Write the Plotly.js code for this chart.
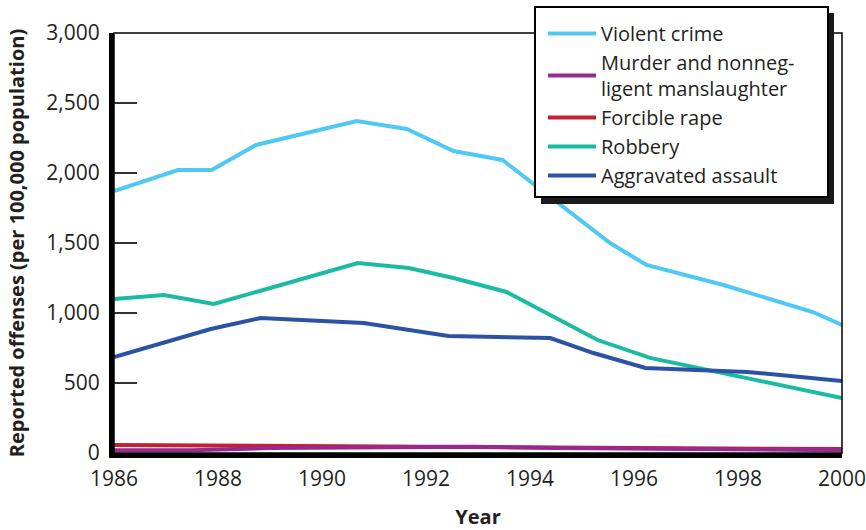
<!DOCTYPE html>
<html>
<head>
<meta charset="utf-8">
<script src="https://cdn.plot.ly/plotly-3.0.1.min.js"></script>
<style>
  html, body { margin: 0; padding: 0; background: #ffffff; }
  #chart { width: 866px; height: 530px; }
</style>
</head>
<body>
<div id="chart"></div>
<script>
// ---- Data ----
const seriesNames = [
  "Violent crime",
  "Murder and nonneg-<br>ligent manslaughter",
  "Forcible rape",
  "Robbery",
  "Aggravated assault"
];

const violentYears = [1986, 1987.23, 1987.88, 1988.73, 1990.67, 1991.63, 1992.53, 1993.47, 1995.54, 1996.24, 1997.72, 1999.44, 2000];
const violentRates = [1871, 2021, 2021, 2200, 2371, 2314, 2157, 2093, 1500, 1343, 1200, 1007, 914];

const murderYears = [1986, 1987.5, 1989, 1990.5, 1992.9, 1994.5, 1996, 1998, 2000];
const murderRates = [20, 20, 35, 38, 44, 36, 32, 30, 20];

const rapeYears = [1986, 1988, 1990, 1992, 1994, 1996, 1998, 2000];
const rapeRates = [57, 53, 48, 45, 40, 35, 32, 28];

const robberyYears = [1986, 1986.96, 1987.92, 1990.69, 1991.67, 1992.53, 1993.55, 1995.30, 1996.31, 1998.56, 2000];
const robberyRates = [1100, 1129, 1064, 1357, 1321, 1250, 1150, 807, 679, 507, 393];

const assaultYears = [1986, 1987.86, 1988.82, 1990.80, 1992.43, 1994.39, 1995.22, 1996.22, 1998.18, 2000];
const assaultRates = [686, 886, 964, 929, 836, 821, 714, 607, 579, 514];

const xTickVals = [1986, 1988, 1990, 1992, 1994, 1996, 1998, 2000];
const yTickVals = [0, 500, 1000, 1500, 2000, 2500, 3000];

const colors = {
  violent: "#4fc8f4",
  murder: "#962a8e",
  rape: "#c41f33",
  robbery: "#1bbba3",
  assault: "#2b52a3"
};

// ---- Layout geometry ----
const W = 866, H = 530;
const M = { l: 114, r: 24, t: 33, b: 77 };
const PW = W - M.l - M.r, PH = H - M.t - M.b;
const px = x => (x - M.l) / PW;          // pixel -> paper x
const py = y => (H - M.b - y) / PH;      // pixel -> paper y

const textColor = "#231f20";
const fontFam = "Open Sans, Noto Sans, DejaVu Sans, sans-serif";
const lw = 4;

function tr(x, y, name, color, rank) {
  return { x: x, y: y, name: name, type: "scatter", mode: "lines",
           line: { color: color, width: lw }, legendrank: rank, hoverinfo: "x+y+name" };
}

const data = [
  tr(violentYears, violentRates, seriesNames[0], colors.violent, 1),
  tr(robberyYears, robberyRates, seriesNames[3], colors.robbery, 4),
  tr(assaultYears, assaultRates, seriesNames[4], colors.assault, 5),
  tr(rapeYears, rapeRates, seriesNames[2], colors.rape, 3),
  tr(murderYears, murderRates, seriesNames[1], colors.murder, 2)
];

const layout = {
  width: W, height: H,
  margin: M,
  paper_bgcolor: "#ffffff",
  plot_bgcolor: "#ffffff",
  font: { family: fontFam, color: textColor, size: 21 },
  showlegend: true,
  legend: {
    x: px(543), y: py(14), xanchor: "left", yanchor: "top",
    bgcolor: "rgba(0,0,0,0)", borderwidth: 0,
    font: { family: fontFam, size: 20, color: textColor },
    traceorder: "normal", itemwidth: 48
  },
  xaxis: {
    range: [1986, 2000],
    tickvals: xTickVals,
    ticktext: xTickVals.map(String),
    ticks: "",
    ticklabelstandoff: 3,
    ticklabeloverflow: "allow",
    showgrid: false, zeroline: false,
    showline: true, linecolor: "#000000", linewidth: 5,
    tickfont: { family: fontFam, size: 21, color: textColor },
    title: { text: "Year", font: { family: fontFam, size: 20, color: textColor, weight: "bold" }, standoff: 22 }
  },
  yaxis: {
    range: [0, 3000],
    tickvals: yTickVals,
    tickformat: ",",
    ticks: "inside", ticklen: 23, tickwidth: 1.5, tickcolor: "#333333",
    ticklabelstandoff: 5,
    ticklabeloverflow: "allow",
    showgrid: false, zeroline: false,
    showline: true, linecolor: "#000000", linewidth: 5,
    tickfont: { family: fontFam, size: 21, color: textColor },
    title: { text: "Reported offenses (per 100,000 population)", font: { family: fontFam, size: 20, color: textColor, weight: "bold" }, standoff: 18 }
  },
  shapes: [
    // thin plot frame (top/right)
    { type: "rect", xref: "paper", yref: "paper", x0: 0, x1: 1, y0: 0, y1: 1,
      line: { color: "#000000", width: 1.5 }, fillcolor: "rgba(0,0,0,0)", layer: "above" },
    // legend shadow
    { type: "rect", xref: "paper", yref: "paper", x0: px(541), x1: px(834), y0: py(204), y1: py(13),
      line: { width: 0 }, fillcolor: "#1a1a1a", layer: "above" },
    // legend box
    { type: "rect", xref: "paper", yref: "paper", x0: px(535), x1: px(828), y0: py(197), y1: py(7),
      line: { color: "#000000", width: 2 }, fillcolor: "#ffffff", layer: "above" }
  ]
};

Plotly.newPlot("chart", data, layout, { staticPlot: true, displayModeBar: false });
</script>
</body>
</html>
